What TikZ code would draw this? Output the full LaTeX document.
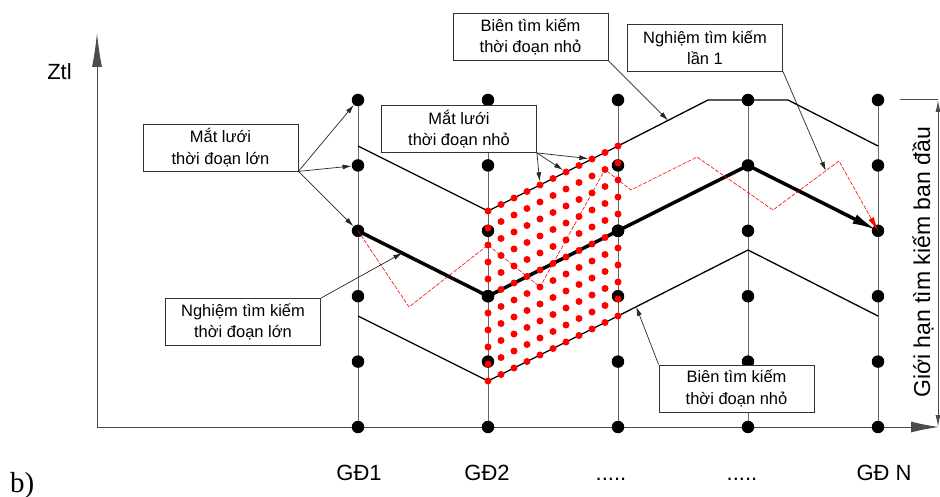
\documentclass[tikz,border=0pt]{standalone}
\usepackage{fontspec}
\setmainfont{Liberation Sans}
\newfontfamily\serifb{Liberation Serif}
\usetikzlibrary{arrows.meta,calc}
\begin{document}
\begin{tikzpicture}[x=1pt,y=-1pt,
  gridline/.style={draw=black!60,line width=1pt},
  bdot/.style={circle,fill=black,inner sep=0pt,minimum size=12.5pt},
  rdot/.style={circle,fill=red,inner sep=0pt,minimum size=7pt},
  bound/.style={draw=black,line width=1.3pt},
  heavy/.style={draw=black,line width=3.5pt},
  lbl/.style={draw=black!80,line width=0.8pt,fill=white,align=center,minimum width=155pt,minimum height=47pt,inner sep=0pt,font=\fontsize{16.5}{21.5}\selectfont},
  leader/.style={draw=black!85,line width=0.7pt,-{Latex[length=9pt,width=5pt]}},
  axis/.style={draw=black!70,line width=1pt},
  redpath/.style={draw=red,line width=0.6pt,dash pattern=on 4pt off 1.5pt},
  txt/.style={inner sep=0pt},
  ]
\useasboundingbox (0,0) rectangle (940,497);

% axes
\coordinate (origin) at (97,427);
\coordinate (ytop) at (97,33);
\coordinate (xend) at (939,427);
\draw[axis,-{Latex[length=34pt,width=10pt]}] (origin) -- (ytop);
\draw[axis,-{Latex[length=28pt,width=11pt]}] (origin) -- (xend);

% grid coordinates
\foreach \c/\x in {1/358,2/488,3/618,4/748,5/878}{
  \foreach \r/\y in {0/100,1/165.4,2/230.8,3/296.2,4/361.6,5/427}{
    \coordinate (g-\c-\r) at (\x,\y);
  }
  \draw[gridline] (g-\c-0) -- (g-\c-5);
}

% red lattice coordinates
\foreach \i in {0,...,10}{
  \foreach \j in {0,...,10}{
    \coordinate (rc-\i-\j) at ({488+13*\i},{211-6.5*\i+17*\j});
  }
}

% boundaries
\coordinate (ub1) at (358,146);
\coordinate (ub4) at (708,100);
\coordinate (ub5) at (788,100);
\coordinate (ub6) at (878,146);
\coordinate (lb1) at (358,316);
\coordinate (lb4) at (748,250);
\coordinate (lb5) at (878,316);
\draw[bound] (ub1) -- (rc-0-0) -- (rc-10-0) -- (ub4) -- (ub5) -- (ub6);
\draw[bound] (lb1) -- (rc-0-10) -- (rc-10-10) -- (lb4) -- (lb5);

% black dots
\foreach \c in {1,...,5}{
  \foreach \r in {0,...,5}{
    \node[bdot] (d-\c-\r) at (g-\c-\r) {};
  }
}

% heavy solution line
\draw[heavy,-{Latex[length=26pt,width=10pt]}] (g-1-2) -- (g-2-3) -- (g-3-2) -- (g-4-1) -- (g-5-2);

% red lattice dots
\foreach \i in {0,...,10}{
  \foreach \j in {0,...,10}{
    \node[rdot] (r-\i-\j) at (rc-\i-\j) {};
  }
}
\node[bdot] at (g-2-3) {};
\node[bdot] at (g-3-2) {};

% red dashed first search path
\coordinate (p1) at (409,307);
\coordinate (p5) at (631,190);
\coordinate (p6) at (697,157);
\coordinate (p7) at (773,210);
\coordinate (p8) at (839,161);
\draw[redpath,-{Latex[length=14pt,width=6pt]}] (g-1-2) -- (p1) -- (rc-0-2) -- (rc-4-6) -- (rc-9-1) -- (p5) -- (p6) -- (p7) -- (p8) -- (g-5-2);

% right dimension
\coordinate (dimtick) at (900,100);
\coordinate (dimtop) at (938,100);
\coordinate (dimbot) at (938,427);
\draw[axis] (dimtick) -- (dimtop);
\draw[axis,{Latex[length=12pt,width=5pt]}-{Latex[length=12pt,width=5pt]}] (dimtop) -- (dimbot);
\node[txt,rotate=90,anchor=base,font=\fontsize{23}{26}\selectfont] (gioihan) at (930,262.5) {Giới hạn tìm kiếm ban đầu};

% label boxes
\node[lbl] (A) at (220.5,147.5) {Mắt lưới\\thời đoạn lớn};
\node[lbl] (B) at (459,129) {Mắt lưới\\thời đoạn nhỏ};
\node[lbl] (C) at (530.5,37) {Biên tìm kiếm\\thời đoạn nhỏ};
\node[lbl] (D) at (705,47.5) {Nghiệm tìm kiếm\\lần 1};
\node[lbl] (E) at (243,322) {Nghiệm tìm kiếm\\thời đoạn lớn};
\node[lbl] (F) at (736.5,388.5) {Biên tìm kiếm\\thời đoạn nhỏ};

% leaders
\draw[leader] (A.south east) -- (d-1-0);
\draw[leader] (A.south east) -- (d-1-1);
\draw[leader] (A.south east) -- (d-1-2);
\draw[leader] (B.south east) -- (r-8-0);
\draw[leader] (B.south east) -- (r-6-0);
\draw[leader] (B.south east) -- (r-4-0);
\coordinate (cC) at ($(rc-10-0)!0.556!(ub4)$);
\draw[leader] (C.south east) -- (cC);
\coordinate (cD) at ($(p7)!0.8!(p8)$);
\draw[leader] (D.south east) -- (cD);
\coordinate (cE) at ($(g-1-2)!0.34!(g-2-3)$);
\draw[leader] (E.north east) -- (cE);
\coordinate (cF) at ($(rc-10-10)!0.14!(lb4)$);
\draw[leader] (F.north west) -- (cF);

% texts
\node[txt,anchor=base,font=\fontsize{22}{26}\selectfont] (ztl) at (59.5,80) {Ztl};
\node[txt,anchor=base west,font=\serifb\fontsize{29}{32}\selectfont] (blabel) at (10,492) {b)};
\node[txt,anchor=base,font=\fontsize{22}{26}\selectfont] (gd1) at (359,480) {GĐ1};
\node[txt,anchor=base,font=\fontsize{22}{26}\selectfont] (gd2) at (487,480) {GĐ2};
\node[txt,anchor=base,font=\fontsize{22}{26}\selectfont] (dots1) at (611,480) {.....};
\node[txt,anchor=base,font=\fontsize{22}{26}\selectfont] (dots2) at (742,480) {.....};
\node[txt,anchor=base,font=\fontsize{22}{26}\selectfont] (gdn) at (884,480) {GĐ N};
\end{tikzpicture}
\end{document}
